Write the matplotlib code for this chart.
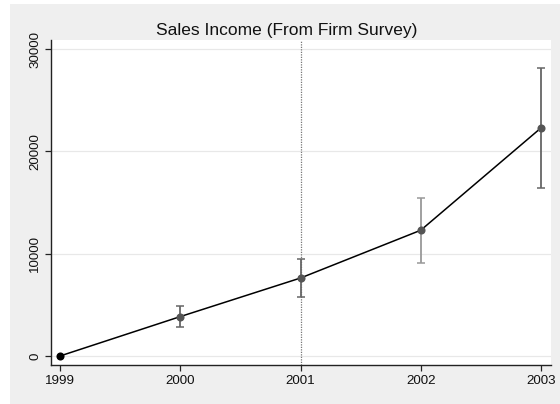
import matplotlib
matplotlib.use("Agg")
import matplotlib.pyplot as plt
from matplotlib.patches import Rectangle

# Survey years and mean sales income with confidence bounds
years = [1999, 2000, 2001, 2002, 2003]
income = [0, 3850, 7620, 12290, 22290]
ci_low = [0, 2800, 5740, 9090, 16390]
ci_high = [0, 4920, 9510, 15450, 28120]
bar_colors = ["#000000", "#666666", "#666666", "#999999", "#666666"]
yticks = [0, 10000, 20000, 30000]
event_year = 2001
title = "Sales Income (From Firm Survey)"

plt.rcParams["font.family"] = ["Liberation Sans", "DejaVu Sans"]

fig = plt.figure(figsize=(5.6, 4.04), dpi=100, facecolor="white")
# light gray graph region behind the plot
fig.patches.append(Rectangle((10 / 560, 0), 550 / 560, 400 / 404,
                             transform=fig.transFigure, facecolor="#efefef",
                             edgecolor="none", zorder=-5))

ax = fig.add_axes([51 / 560, 1 - 365 / 404, 500 / 560, 325 / 404])
ax.set_zorder(2)
ax.set_facecolor("white")

ax.set_xlim(1998.925, 2003.083)
ax.set_ylim(-880, 30880)

for y in yticks:
    ax.axhline(y, color="#e8e8e8", lw=0.9, zorder=1)

ax.axvline(event_year, color="#777777", lw=0.9, ls=(0, (1, 1)), zorder=1)

ax.plot(years, income, color="black", lw=1.1, zorder=3)

for x, m, lo, hi, c in zip(years, income, ci_low, ci_high, bar_colors):
    if hi > lo:
        ax.errorbar([x], [m], yerr=[[m - lo], [hi - m]], fmt="none",
                    ecolor=c, elinewidth=1.3, capsize=2.6, capthick=1.1, zorder=2)

ax.scatter(years[1:], income[1:], s=34, color="#555555", zorder=4, linewidths=0)
ax.scatter(years[:1], income[:1], s=34, color="black", zorder=4, linewidths=0)

ax.set_xticks(years)
ax.set_xticklabels([str(y) for y in years])
ax.set_yticks(yticks)
ax.set_yticklabels([str(y) for y in yticks], rotation=90, va="center")

for side in ["top", "right"]:
    ax.spines[side].set_visible(False)
for side in ["left", "bottom"]:
    ax.spines[side].set_color("#222222")
    ax.spines[side].set_linewidth(1.0)

ax.tick_params(axis="both", length=4, width=0.9, color="#222222",
               labelsize=9.6, labelcolor="#111111", pad=3)

fig.text(287 / 560, 1 - 30 / 404, title,
         ha="center", va="center", fontsize=12.5, color="#111111", zorder=3)

fig.savefig("out.png", dpi=100, facecolor=fig.get_facecolor())
